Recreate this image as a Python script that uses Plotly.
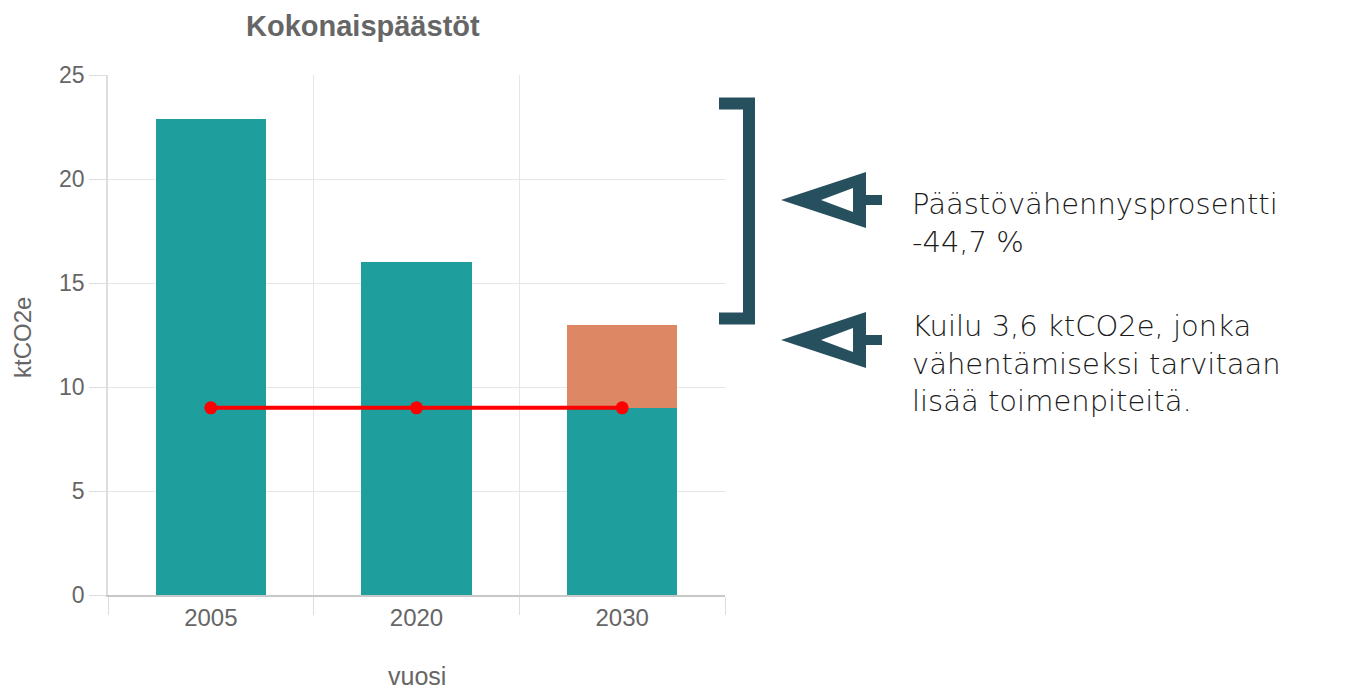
import plotly.graph_objects as go

# ---- data ----
years = ["2005", "2020", "2030"]
emissions = [22.9, 16.0, 9.0]      # teal bars (ktCO2e)
gap = [0, 0, 4.0]                  # orange gap on top of 2030
target = [9.0, 9.0, 9.0]           # red target line
y_ticks = [0, 5, 10, 15, 20, 25]

title_text = "Kokonaispäästöt"
y_title = "ktCO2e"
x_title = "vuosi"
note1 = ["Päästövähennysprosentti", "-44,7 %"]
note2 = ["Kuilu 3,6 ktCO2e, jonka", "vähentämiseksi tarvitaan", "lisää toimenpiteitä."]

# ---- geometry helpers (screen pixel -> paper) ----
# page body has an 8px margin, so the figure is placed at (8, 8)
OFF = 8
W, H = 1355 - OFF, 689 - OFF
PLOT_L, PLOT_T, PW, PH = 108, 75, 617, 520      # plot area in screen pixels
L, T = PLOT_L - OFF, PLOT_T - OFF
R, B = W - L - PW, H - T - PH

def px(x):
    return (x - PLOT_L) / PW

def py(y):
    return (PLOT_T + PH - y) / PH

TEAL = "#1f9e9e"
ORANGE = "#dd8765"
RED = "#ff0000"
DARK = "#27505f"
GRAY = "#666666"

fig = go.Figure()
fig.add_trace(go.Bar(x=years, y=emissions, marker=dict(color=TEAL, line=dict(width=0)),
                     name="Päästöt", hoverinfo="x+y"))
fig.add_trace(go.Bar(x=years, y=gap, marker=dict(color=ORANGE, line=dict(width=0)),
                     name="Kuilu", hoverinfo="x+y"))
fig.add_trace(go.Scatter(x=years, y=target, mode="lines+markers",
                         line=dict(color=RED, width=4),
                         marker=dict(color=RED, size=13), name="Tavoite"))

shapes = []
# bracket
shapes.append(dict(type="path", xref="paper", yref="paper",
                   path=f"M {px(719)},{py(103.5)} L {px(749)},{py(103.5)} L {px(749)},{py(318.5)} L {px(719)},{py(318.5)}",
                   line=dict(color=DARK, width=12), layer="above"))

def arrow(cy):
    out = []
    out.append(dict(type="path", xref="paper", yref="paper",
                    path=f"M {px(781)},{py(cy)} L {px(866)},{py(cy-28)} L {px(866)},{py(cy+28)} Z",
                    fillcolor=DARK, line=dict(width=0), layer="above"))
    out.append(dict(type="path", xref="paper", yref="paper",
                    path=f"M {px(821)},{py(cy)} L {px(853)},{py(cy-12)} L {px(853)},{py(cy+12)} Z",
                    fillcolor="white", line=dict(width=0), layer="above"))
    out.append(dict(type="rect", xref="paper", yref="paper",
                    x0=px(862), x1=px(882), y0=py(cy-5), y1=py(cy+5),
                    fillcolor=DARK, line=dict(width=0), layer="above"))
    return out

shapes += arrow(200)
shapes += arrow(340)

annotations = []
annotations.append(dict(text=f"<b>{title_text}</b>", xref="paper", yref="paper",
                        x=px(363), y=py(26), xanchor="center", yanchor="middle", showarrow=False,
                        font=dict(family="Liberation Sans", size=29, color=GRAY)))
annotations.append(dict(text=y_title, xref="paper", yref="paper", x=px(22), y=py(338),
                        xanchor="center", yanchor="middle",
                        textangle=-90, showarrow=False,
                        font=dict(family="Liberation Sans", size=24, color=GRAY)))
annotations.append(dict(text=x_title, xref="paper", yref="paper", x=px(417), y=py(676),
                        xanchor="center", yanchor="middle", showarrow=False,
                        font=dict(family="Liberation Sans", size=25, color=GRAY)))

txt_font = dict(family="DejaVu Sans", size=29, color="#1a1a1a", weight=300)
annotations.append(dict(text="<br>".join(note1), xref="paper", yref="paper", x=px(910), y=py(223),
                        xanchor="left", yanchor="middle", align="left", showarrow=False, font=txt_font))
annotations.append(dict(text="<br>".join(note2), xref="paper", yref="paper", x=px(910), y=py(363),
                        xanchor="left", yanchor="middle", align="left", showarrow=False, font=txt_font))

fig.update_layout(
    width=W, height=H,
    margin=dict(l=L, r=R, t=T, b=B),
    paper_bgcolor="white", plot_bgcolor="white",
    barmode="stack", bargap=0.465,
    showlegend=False,
    shapes=shapes, annotations=annotations,
    font=dict(family="Liberation Sans", color=GRAY),
    xaxis=dict(type="category", tickson="boundaries", showgrid=True, gridcolor="#e6e6e6",
               ticks="outside", ticklen=18, tickcolor="#dddddd",
               showline=True, linecolor="#c8c8c8", linewidth=1.5,
               tickfont=dict(size=24, color=GRAY), range=[-0.5, 2.5], fixedrange=True),
    yaxis=dict(range=[0, 25], tickvals=y_ticks, showgrid=True, gridcolor="#e6e6e6",
               ticks="outside", ticklen=17, tickcolor="#dddddd",
               showline=True, linecolor="#dddddd", linewidth=1.5, zeroline=False,
               tickfont=dict(size=23, color=GRAY), fixedrange=True),
)

fig.write_html("out.html")
